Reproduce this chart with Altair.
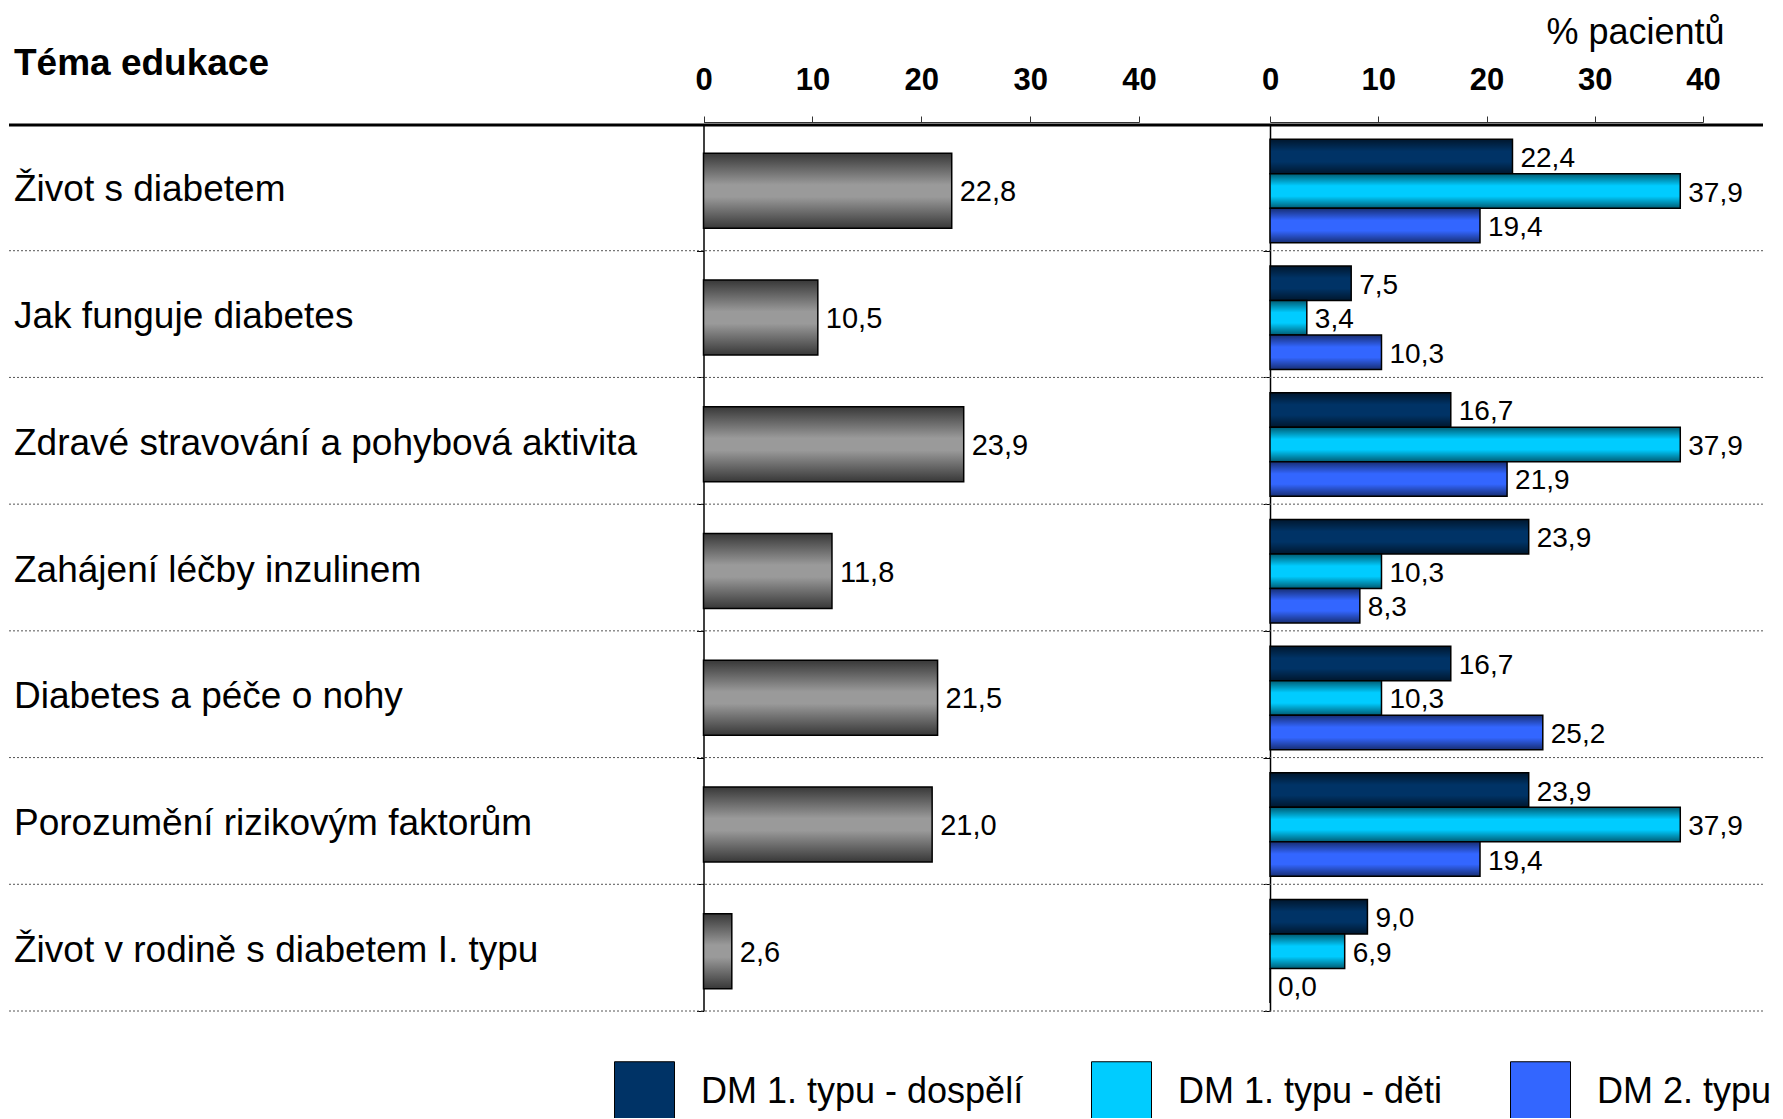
import altair as alt
import pandas as pd

categories = [
    "Život s diabetem",
    "Jak funguje diabetes",
    "Zdravé stravování a pohybová aktivita",
    "Zahájení léčby inzulinem",
    "Diabetes a péče o nohy",
    "Porozumění rizikovým faktorům",
    "Život v rodině s diabetem I. typu",
]
all_patients = [22.8, 10.5, 23.9, 11.8, 21.5, 21.0, 2.6]

series_names = ["DM 1. typu - dospělí", "DM 1. typu - děti", "DM 2. typu"]
dm1_adults = [22.4, 7.5, 16.7, 23.9, 16.7, 23.9, 9.0]
dm1_children = [37.9, 3.4, 37.9, 10.3, 10.3, 37.9, 6.9]
dm2 = [19.4, 10.3, 21.9, 8.3, 25.2, 19.4, 0.0]
series_colors = ["#003366", "#00ccff", "#3366ff"]

x_ticks = [0, 10, 20, 30, 40]
header_text = "Téma edukace"
unit_text = "% pacientů"

FONT = "Liberation Sans"

left_df = pd.DataFrame({"cat": categories, "v": all_patients})
right_df = pd.DataFrame({
    "cat": categories * 3,
    "series": [s for s in series_names for _ in categories],
    "v": dm1_adults + dm1_children + dm2,
})
cat_df = pd.DataFrame({"cat": categories})

Y_RANGE = [116, 1003]


def yscale():
    return alt.Scale(domain=categories, range=Y_RANGE, paddingInner=0, paddingOuter=0)


label_expr = "replace(format(datum.v, '.1f'), '.', ',')"

gray_grad = {
    "gradient": "linear", "x1": 0, "y1": 0, "x2": 0, "y2": 1,
    "stops": [
        {"offset": 0, "color": "#383838"},
        {"offset": 0.42, "color": "#9a9a9a"},
        {"offset": 0.58, "color": "#9a9a9a"},
        {"offset": 1, "color": "#383838"},
    ],
}
shade_grad = {
    "gradient": "linear", "x1": 0, "y1": 0, "x2": 0, "y2": 1,
    "stops": [
        {"offset": 0, "color": "rgba(0,0,0,0.55)"},
        {"offset": 0.35, "color": "rgba(0,0,0,0)"},
        {"offset": 0.65, "color": "rgba(0,0,0,0)"},
        {"offset": 1, "color": "rgba(0,0,0,0.55)"},
    ],
}


def top_axis(**kw):
    return alt.Axis(
        orient="top", offset=-114, values=x_ticks, labelFontSize=31,
        labelFontWeight="bold", labelColor="black", labelPadding=27,
        labelBaseline="alphabetic", tickSize=6, tickColor="#333333",
        domainColor="#333333", grid=False, labelFont=FONT, labelOverlap=False,
        labelFlush=False,
        **kw,
    )


def y_axis(x):
    return alt.Axis(
        orient="left", offset=-x, labels=False, ticks=True, tickBand="extent",
        tickSize=7, tickColor="black", domainColor="black", domainWidth=1.5,
        grid=False, title=None,
    )


# dotted row separators
rules = alt.Chart(cat_df).mark_rule(
    color="#555555", strokeDash=[2, 2], strokeWidth=1
).encode(
    y=alt.Y("cat:N", bandPosition=1, scale=yscale(), axis=None, sort=categories),
    x=alt.value(1), x2=alt.value(1755),
)

header_rule = alt.Chart(pd.DataFrame({"a": [0]})).mark_rule(
    color="black", strokeWidth=3
).encode(x=alt.value(1), x2=alt.value(1755), y=alt.value(117))

header = alt.Chart(pd.DataFrame({"t": [header_text]})).mark_text(
    align="left", baseline="alphabetic", fontSize=37, fontWeight="bold",
    font=FONT, color="black",
).encode(x=alt.value(6), y=alt.value(67), text="t:N")

cat_labels = alt.Chart(cat_df).mark_text(
    align="left", baseline="alphabetic", fontSize=37, font=FONT, color="black", dy=14,
).encode(
    y=alt.Y("cat:N", scale=yscale(), axis=None, sort=categories),
    x=alt.value(6),
    text="cat:N",
)

# left panel: all patients
lx = alt.Scale(domain=[0, 40], range=[695.5, 1131], nice=False)
left_base = alt.Chart(left_df).transform_calculate(lbl=label_expr)
left_bars = left_base.mark_bar(
    height=75, yOffset=3.5, fill=gray_grad, stroke="black", strokeWidth=1.5
).encode(
    x=alt.X("v:Q", scale=lx, axis=top_axis(title=None)),
    y=alt.Y("cat:N", scale=yscale(), axis=y_axis(695.5), sort=categories),
)
left_text = left_base.mark_text(
    align="left", baseline="alphabetic", dx=8, dy=14, fontSize=29, font=FONT, color="black"
).encode(
    x=alt.X("v:Q", scale=lx),
    y=alt.Y("cat:N", scale=yscale(), sort=categories),
    text="lbl:N",
)
left = alt.layer(left_bars, left_text)

# right panel: by diabetes type
rx = alt.Scale(domain=[0, 40], range=[1262, 1695], nice=False)
yoff = alt.YOffset(
    "series:N", sort=series_names,
    scale=alt.Scale(domain=series_names, range=[15.3, 118.8], paddingInner=0, paddingOuter=0),
)
right_base = alt.Chart(right_df).transform_calculate(lbl=label_expr)
right_bars = right_base.mark_bar(stroke="black", strokeWidth=1.5).encode(
    x=alt.X("v:Q", scale=rx, axis=top_axis(
        title=unit_text, titleX=1627, titleY=-79, titleAlign="center",
        titleBaseline="alphabetic", titleFontSize=36, titleFontWeight="normal",
        titleFont=FONT, titleColor="black", titleAngle=0,
    )),
    y=alt.Y("cat:N", scale=yscale(), axis=y_axis(1262), sort=categories),
    yOffset=yoff,
    color=alt.Color(
        "series:N", sort=series_names,
        scale=alt.Scale(domain=series_names, range=series_colors),
        legend=alt.Legend(
            orient="none", legendX=606, legendY=1053, direction="horizontal",
            title=None, symbolType="square", symbolSize=3600,
            symbolStrokeColor="black", symbolStrokeWidth=1, symbolOpacity=1,
            labelFontSize=36, labelFont=FONT, labelColor="black",
            labelOffset=26, columnPadding=65, labelLimit=0,
        ),
    ),
)
right_shade = right_base.mark_bar(fill=shade_grad, strokeWidth=0).encode(
    x=alt.X("v:Q", scale=rx),
    y=alt.Y("cat:N", scale=yscale(), sort=categories),
    yOffset=yoff,
)
right_text = right_base.mark_text(
    align="left", baseline="alphabetic", dx=8, dy=10.5, fontSize=28, font=FONT, color="black"
).encode(
    x=alt.X("v:Q", scale=rx),
    y=alt.Y("cat:N", scale=yscale(), sort=categories),
    yOffset=yoff,
    text="lbl:N",
)
right = alt.layer(right_bars, right_shade, right_text)

chart = alt.layer(
    rules, header_rule, header, cat_labels, left, right
).resolve_scale(
    x="independent", y="independent"
).resolve_axis(
    x="independent", y="independent"
).properties(
    width=1767, height=1110, padding=0,
    autosize=alt.AutoSizeParams(type="none"),
).configure(font=FONT).configure_view(stroke=None)

chart.save("out.html", embed_options={"renderer": "svg", "actions": False})
